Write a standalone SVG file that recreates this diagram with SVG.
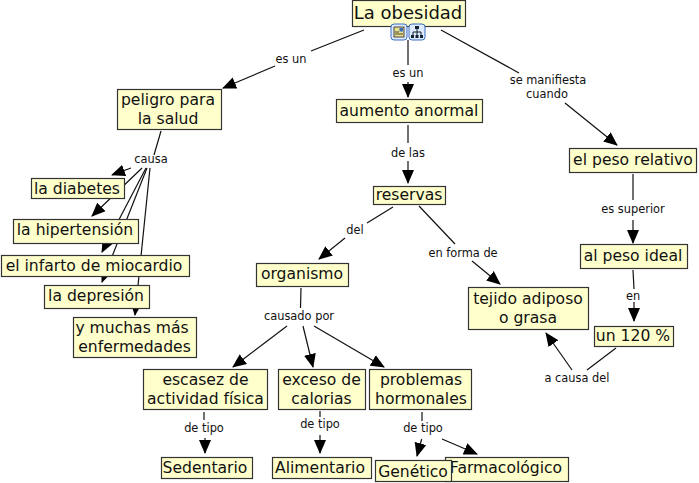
<svg xmlns="http://www.w3.org/2000/svg" width="699" height="483" viewBox="0 0 699 483">
<style>
text{font-family:"DejaVu Sans",Verdana,sans-serif;text-anchor:middle}
.n rect{fill:#ffffcc;stroke:#333;stroke-width:1.2}
.n text{font-size:15.6px;fill:#111}
.l{font-size:11.4px;fill:#111}
#c line{stroke:#111;stroke-width:1.2}
.h{marker-end:url(#a)}
</style>
<defs>
<marker id="a" markerWidth="15" markerHeight="13" refX="13" refY="6.500" orient="auto" markerUnits="userSpaceOnUse"><path d="M0 0.500L14 6.500L0 12.500Z" fill="#000"/></marker>
</defs>
<g id="c">
<line x1="364" y1="30" x2="311" y2="51"/>
<line class="h" x1="275" y1="66" x2="223" y2="88"/>
<line x1="408" y1="40" x2="408" y2="65"/>
<line class="h" x1="408" y1="82" x2="408" y2="97"/>
<line x1="441" y1="30" x2="519" y2="73"/>
<line class="h" x1="565" y1="103" x2="617" y2="145"/>
<line x1="408" y1="125" x2="408" y2="143"/>
<line class="h" x1="408" y1="161" x2="408" y2="183"/>
<line x1="633" y1="174" x2="633" y2="200"/>
<line class="h" x1="633" y1="220" x2="633" y2="243"/>
<line x1="633" y1="270" x2="634" y2="289"/>
<line class="h" x1="634" y1="302" x2="634" y2="321"/>
<line x1="393" y1="207" x2="367" y2="223"/>
<line class="h" x1="345" y1="238" x2="319" y2="259"/>
<line x1="419" y1="206" x2="455" y2="244"/>
<line class="h" x1="472" y1="261" x2="500" y2="284"/>
<line x1="616" y1="348" x2="587" y2="370"/>
<line class="h" x1="572" y1="370" x2="546" y2="333"/>
<line x1="301" y1="288" x2="300.500" y2="308"/>
<line class="h" x1="287" y1="326" x2="233" y2="367"/>
<line class="h" x1="303" y1="326" x2="313" y2="367"/>
<line class="h" x1="314" y1="326" x2="384" y2="367"/>
<line x1="204" y1="412" x2="204" y2="420"/>
<line class="h" x1="205" y1="438" x2="205" y2="453"/>
<line x1="320" y1="411" x2="320" y2="417"/>
<line class="h" x1="320" y1="435" x2="320" y2="453"/>
<line x1="422" y1="412" x2="422" y2="421"/>
<line class="h" x1="421.700" y1="439" x2="417" y2="456"/>
<line class="h" x1="442" y1="439" x2="477" y2="454"/>
<line x1="161" y1="131" x2="154" y2="155"/>
<line class="h" x1="131" y1="168" x2="112" y2="175"/>
<line class="h" x1="142" y1="168" x2="92" y2="216"/>
<line class="h" x1="146" y1="168" x2="102" y2="252"/>
<line class="h" x1="147" y1="168" x2="102" y2="282"/>
<line class="h" x1="150" y1="168" x2="135" y2="315"/>
</g>
<g id="labels">
<text class="l" x="291" y="63">es un</text>
<text class="l" x="408" y="77">es un</text>
<text class="l" x="548" y="84">se manifiesta</text>
<text class="l" x="547" y="98">cuando</text>
<text class="l" x="408" y="157">de las</text>
<text class="l" x="633" y="213">es superior</text>
<text class="l" x="633" y="300">en</text>
<text class="l" x="355" y="234">del</text>
<text class="l" x="463" y="257">en forma de</text>
<text class="l" x="577" y="382">a causa del</text>
<text class="l" x="299" y="320">causado por</text>
<text class="l" x="204" y="432">de tipo</text>
<text class="l" x="320" y="428">de tipo</text>
<text class="l" x="423" y="432">de tipo</text>
<text class="l" x="151" y="163">causa</text>
</g>
<g id="n1" class="n"><rect x="352.500" y="0.500" width="113" height="26"/><text x="408" y="19" style="font-size:18px">La obesidad</text></g>
<g id="icons">
<rect x="391" y="24" width="16" height="16" rx="3" fill="#dfeaff" stroke="#3a6fc0"/><rect x="394" y="27" width="10" height="10" fill="#e8e08a" stroke="#222" stroke-width="0.8"/><path d="M395 34H403M395 32H399" stroke="#222" stroke-width="0.8"/><rect x="399.500" y="28" width="3.500" height="3.500" fill="#3a6fc0"/>
<rect x="409" y="24" width="16" height="16" rx="3" fill="#dfeaff" stroke="#3a6fc0"/><path d="M417 28V31M413 36V32H421V36M417 31V36" stroke="#123" fill="none"/><rect x="415" y="26" width="4" height="3" fill="#123"/><rect x="411" y="35" width="3" height="3" fill="#123"/><rect x="415.500" y="35" width="3" height="3" fill="#123"/><rect x="420" y="35" width="3" height="3" fill="#123"/>
</g>
<g id="n2" class="n"><rect x="117.500" y="89.500" width="104" height="40"/><text x="168" y="105">peligro para</text><text x="168" y="124">la salud</text></g>
<g id="n3" class="n"><rect x="336.500" y="99.500" width="146" height="23"/><text x="409" y="116">aumento anormal</text></g>
<g id="n4" class="n"><rect x="569.500" y="148.500" width="127" height="24"/><text x="633" y="165">el peso relativo</text></g>
<g id="n5" class="n"><rect x="373.500" y="186.500" width="72" height="18"/><text x="409" y="200">reservas</text></g>
<g id="n6" class="n"><rect x="31.500" y="178.500" width="93" height="20"/><text x="77" y="194">la diabetes</text></g>
<g id="n7" class="n"><rect x="13.500" y="219.500" width="125" height="24"/><text x="75" y="235">la hipertensión</text></g>
<g id="n8" class="n"><rect x="1.500" y="255.500" width="188" height="21"/><text x="94" y="271">el infarto de miocardio</text></g>
<g id="n9" class="n"><rect x="44.500" y="285.500" width="105" height="23"/><text x="96" y="301">la depresión</text></g>
<g id="n10" class="n"><rect x="73.500" y="317.500" width="123" height="40"/><text x="132" y="333">y muchas más</text><text x="134.500" y="352">enfermedades</text></g>
<g id="n11" class="n"><rect x="256.500" y="263.500" width="92" height="23"/><text x="302" y="279">organismo</text></g>
<g id="n12" class="n"><rect x="468.500" y="287.500" width="120" height="42"/><text x="528" y="304">tejido adiposo</text><text x="528" y="323">o grasa</text></g>
<g id="n13" class="n"><rect x="580.500" y="244.500" width="107" height="24"/><text x="633" y="261">al peso ideal</text></g>
<g id="n14" class="n"><rect x="594.500" y="326.500" width="79" height="20"/><text x="633" y="341">un 120 %</text></g>
<g id="n15" class="n"><rect x="143.500" y="369.500" width="124" height="40"/><text x="205.500" y="385">escasez de</text><text x="205.500" y="404">actividad física</text></g>
<g id="n16" class="n"><rect x="278.500" y="369.500" width="87" height="40"/><text x="321.500" y="385">exceso de</text><text x="321.500" y="404">calorias</text></g>
<g id="n17" class="n"><rect x="369.500" y="369.500" width="102" height="40"/><text x="421" y="385">problemas</text><text x="421" y="404">hormonales</text></g>
<g id="n18" class="n"><rect x="161.500" y="457.500" width="91" height="21"/><text x="205" y="473">Sedentario</text></g>
<g id="n19" class="n"><rect x="272.500" y="457.500" width="99" height="21"/><text x="320" y="473">Alimentario</text></g>
<g id="n21" class="n"><rect x="445.500" y="457.500" width="123" height="24"/><text x="506" y="473">Farmacológico</text></g>
<g id="n20" class="n"><rect x="375.500" y="460.500" width="76" height="21"/><text x="413" y="477">Genético</text></g>
</svg>
